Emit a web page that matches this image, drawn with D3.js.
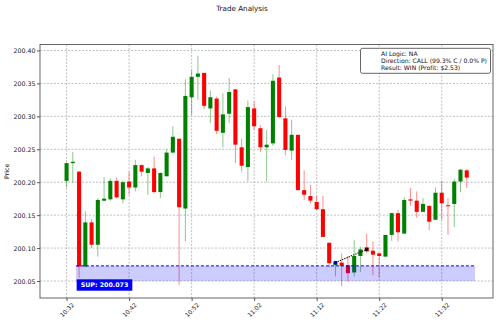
<!DOCTYPE html>
<html>
<head>
<meta charset="utf-8">
<script src="https://cdn.jsdelivr.net/npm/d3@7"></script>
<style>
  body { margin: 0; background: #fff; }
  svg { display: block; font-family: "DejaVu Sans", sans-serif; }
</style>
</head>
<body>
<div id="chart"><svg width="500" height="324"></svg></div>
<script>
var times = ["10:32","10:33","10:34","10:35","10:36","10:37","10:38","10:39","10:40","10:41",
  "10:42","10:43","10:44","10:45","10:46","10:47","10:48","10:49","10:50","10:51",
  "10:52","10:53","10:54","10:55","10:56","10:57","10:58","10:59","11:00","11:01",
  "11:02","11:03","11:04","11:05","11:06","11:07","11:08","11:09","11:10","11:11",
  "11:12","11:13","11:14","11:15","11:16","11:17","11:18","11:19","11:20","11:21",
  "11:22","11:23","11:24","11:25","11:26","11:27","11:28","11:29","11:30","11:31",
  "11:32","11:33","11:34","11:35","11:36"];

var opens = [200.202,200.229,200.216,200.072,200.139,200.105,200.172,200.174,200.202,200.174,
  200.201,200.192,200.226,200.214,200.221,200.185,200.209,200.245,200.266,200.160,
  200.329,200.360,200.366,200.312,200.327,200.275,200.304,200.341,200.253,200.223,
  200.312,200.282,200.253,200.259,200.359,200.297,200.248,200.272,200.188,200.179,
  200.170,200.159,200.108,200.074,200.078,200.074,200.063,200.088,200.101,200.096,
  200.092,200.087,200.120,200.153,200.122,200.174,200.172,200.155,200.164,200.143,
  200.184,200.165,200.167,200.201,200.218];

var highs = [200.230,200.246,200.217,200.156,200.144,200.176,200.208,200.206,200.207,200.203,
  200.216,200.234,200.227,200.223,200.239,200.215,200.250,200.285,200.266,200.356,
  200.370,200.392,200.366,200.339,200.330,200.335,200.358,200.342,200.266,200.324,
  200.322,200.287,200.279,200.364,200.378,200.315,200.295,200.272,200.218,200.196,
  200.179,200.179,200.109,200.080,200.092,200.088,200.112,200.102,200.122,200.110,
  200.092,200.120,200.154,200.158,200.177,200.191,200.186,200.176,200.165,200.192,
  200.202,200.176,200.205,200.220,200.220];

var lows = [200.192,200.199,200.055,200.071,200.100,200.087,200.171,200.172,200.175,200.168,
  200.181,200.186,200.209,200.181,200.183,200.176,200.209,200.244,200.044,200.110,
  200.302,200.325,200.311,200.290,200.273,200.253,200.290,200.229,200.216,200.201,
  200.280,200.246,200.201,200.255,200.298,200.241,200.234,200.188,200.173,200.168,
  200.158,200.117,200.071,200.057,200.042,200.049,200.057,200.064,200.092,200.059,
  200.055,200.087,200.111,200.110,200.122,200.164,200.146,200.161,200.127,200.143,
  200.143,200.120,200.132,200.185,200.191];

var closes = [200.229,200.231,200.072,200.139,200.105,200.173,200.175,200.202,200.177,200.200,
  200.192,200.226,200.216,200.221,200.185,200.214,200.245,200.269,200.162,200.331,
  200.360,200.365,200.316,200.329,200.278,200.303,200.337,200.257,200.225,200.314,
  200.285,200.253,200.257,200.354,200.299,200.249,200.272,200.188,200.181,200.172,
  200.159,200.117,200.077,200.079,200.073,200.062,200.088,200.098,200.095,200.090,
  200.088,200.120,200.153,200.124,200.173,200.172,200.155,200.167,200.140,200.184,
  200.168,200.164,200.201,200.219,200.207];

var xTickLabels = ["10:32","10:42","10:52","11:02","11:12","11:22","11:32"];
var yTicks = [200.05,200.10,200.15,200.20,200.25,200.30,200.35,200.40];

var supLevel = 200.073;
var supFloor = 200.050;
var supSpan = ["10:33:30","11:37:20"];

var tradeTimes = ["11:15","11:20"];
var tradePrices = [200.078,200.098];

var infoLines = ["AI Logic: NA", "Direction: CALL (99.3% C / 0.0% P)", "Result: WIN (Profit: $2.53)"];

function candleChart() {
  var svg = d3.select("#chart svg"),
    margin = { top: 44.5, right: 7, bottom: 26, left: 40 },
    width = +svg.attr("width") - margin.left - margin.right,
    height = +svg.attr("height") - margin.top - margin.bottom;

  var parseTime = d3.timeParse("%H:%M"),
    parseSec = d3.timeParse("%H:%M:%S"),
    minute = 60000;

  var data = times.map(function (t, i) {
    return { date: parseTime(t), open: opens[i], high: highs[i], low: lows[i], close: closes[i] };
  });

  svg.append("rect").attr("width", 500).attr("height", 324).attr("fill", "#fff");

  var first = data[0].date, last = data[data.length - 1].date;
  var x = d3.scaleTime()
    .domain([new Date(+first - 4.25 * minute), new Date(+last + 4.2 * minute)])
    .range([0, width]);
  var y = d3.scaleLinear()
    .domain([200.0242, 200.4091])
    .range([height, 0]);

  var g = svg.append("g")
    .attr("transform", "translate(" + margin.left + "," + margin.top + ")");

  // grid
  var tickDates = xTickLabels.map(parseTime);
  g.append("g").selectAll("line")
    .data(tickDates)
    .enter().append("line")
    .attr("x1", function (d) { return x(d); })
    .attr("x2", function (d) { return x(d); })
    .attr("y1", 0).attr("y2", height)
    .attr("stroke", "#b0b0b0").attr("stroke-width", 0.8)
    .attr("stroke-dasharray", "2,1.5");
  g.append("g").selectAll("line")
    .data(yTicks)
    .enter().append("line")
    .attr("x1", 0).attr("x2", width)
    .attr("y1", function (d) { return y(d); })
    .attr("y2", function (d) { return y(d); })
    .attr("stroke", "#b0b0b0").attr("stroke-width", 0.8)
    .attr("stroke-dasharray", "2,1.5");

  var bodyW = x(new Date(+first + 0.65 * minute)) - x(first);
  function col(d) { return d.close >= d.open ? "green" : "red"; }

  // wicks
  g.append("g").selectAll("line")
    .data(data)
    .enter().append("line")
    .attr("x1", function (d) { return x(d.date); })
    .attr("x2", function (d) { return x(d.date); })
    .attr("y1", function (d) { return y(d.high); })
    .attr("y2", function (d) { return y(d.low); })
    .attr("stroke", col).attr("stroke-opacity", 0.45).attr("stroke-width", 1);

  // bodies
  g.append("g").selectAll("rect")
    .data(data)
    .enter().append("rect")
    .attr("x", function (d) { return x(d.date) - bodyW / 2; })
    .attr("width", bodyW)
    .attr("y", function (d) { return y(Math.max(d.open, d.close)); })
    .attr("height", function (d) { return Math.max(1, Math.abs(y(d.open) - y(d.close))); })
    .attr("fill", col);

  // support zone
  var s0 = x(parseSec(supSpan[0])), s1 = x(parseSec(supSpan[1]));
  g.append("rect")
    .attr("x", s0).attr("width", s1 - s0)
    .attr("y", y(supLevel)).attr("height", y(supFloor) - y(supLevel))
    .attr("fill", "#0000ff").attr("fill-opacity", 0.2);
  g.append("line")
    .attr("x1", s0).attr("x2", s1)
    .attr("y1", y(supLevel)).attr("y2", y(supLevel))
    .attr("stroke", "#0000ff").attr("stroke-width", 1)
    .attr("stroke-dasharray", "3,2");

  var lab = g.append("g").attr("transform", "translate(" + (s0 + 0.7) + "," + (y(supFloor) - 1.7) + ")");
  var labText = lab.append("text")
    .attr("x", 4).attr("y", 7.8)
    .attr("fill", "#fff").attr("font-size", 6.3).attr("font-weight", "bold")
    .text("SUP: " + supLevel.toFixed(3));
  var tw = labText.node().getComputedTextLength();
  lab.insert("rect", "text")
    .attr("width", tw + 8).attr("height", 11.4)
    .attr("fill", "#0000ff");

  // trade path
  var trade = tradeTimes.map(function (t, i) { return { date: parseTime(t), price: tradePrices[i] }; });
  g.append("path")
    .datum(trade)
    .attr("d", d3.line()
      .x(function (d) { return x(d.date); })
      .y(function (d) { return y(d.price); }))
    .attr("stroke", "#000").attr("stroke-width", 1.1)
    .attr("stroke-dasharray", "1.2,1.2").attr("fill", "none");
  g.selectAll(".tm")
    .data(trade)
    .enter().append("rect")
    .attr("class", "tm")
    .attr("x", function (d) { return x(d.date) - 1.6; })
    .attr("y", function (d) { return y(d.price) - 1.6; })
    .attr("width", 3.2).attr("height", 3.2)
    .attr("fill", function (d, i) { return i === 0 ? "#0000cc" : "#111"; });

  // frame
  g.append("rect")
    .attr("width", width).attr("height", height)
    .attr("fill", "none").attr("stroke", "#555").attr("stroke-width", 0.9);

  // axes
  var yAxis = d3.axisLeft(y).tickValues(yTicks).tickSize(3).tickFormat(d3.format(".2f"));
  var ya = g.append("g").call(yAxis);
  ya.select(".domain").remove();
  ya.selectAll("text").attr("font-size", 6.3).attr("fill", "#222").attr("x", -4.5)
    .attr("font-family", "DejaVu Sans");
  ya.selectAll("line").attr("stroke", "#555");

  var xAxis = d3.axisBottom(x).tickValues(tickDates).tickSize(3).tickFormat(d3.timeFormat("%H:%M"));
  var xa = g.append("g").attr("transform", "translate(0," + height + ")").call(xAxis);
  xa.select(".domain").remove();
  xa.selectAll("line").attr("stroke", "#555");
  xa.selectAll("text")
    .attr("font-size", 6)
    .attr("font-family", "DejaVu Sans")
    .attr("fill", "#222")
    .attr("text-anchor", "middle")
    .attr("dy", "0.35em")
    .attr("y", 0)
    .attr("transform", "translate(0,12) rotate(-45)");

  // labels
  svg.append("text")
    .attr("x", 242).attr("y", 10.5)
    .attr("text-anchor", "middle").attr("font-size", 7.2).attr("fill", "#111")
    .text("Trade Analysis");
  svg.append("text")
    .attr("transform", "translate(9," + (margin.top + height / 2) + ") rotate(-90)")
    .attr("text-anchor", "middle").attr("font-size", 6.3).attr("fill", "#111")
    .text("Price");

  // info box
  var info = g.append("g").attr("transform", "translate(" + (width - 132.5) + ",3.8)");
  info.append("rect")
    .attr("width", 130).attr("height", 25)
    .attr("rx", 2).attr("fill", "#fff")
    .attr("stroke", "#555").attr("stroke-width", 0.9);
  info.selectAll("text")
    .data(infoLines)
    .enter().append("text")
    .attr("x", 20.5)
    .attr("y", function (d, i) { return 7.3 + i * 7.3; })
    .attr("font-size", 6.1).attr("fill", "#111")
    .text(function (d) { return d; });
}

candleChart();
</script>
</body>
</html>
